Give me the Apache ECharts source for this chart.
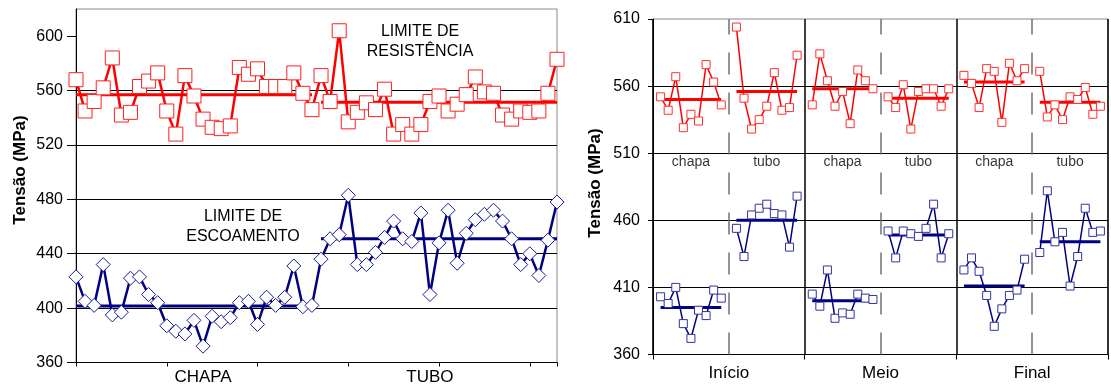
<!DOCTYPE html>
<html><head><meta charset="utf-8">
<script src="https://cdn.jsdelivr.net/npm/echarts@6/dist/echarts.min.js"></script>
<style>html,body{margin:0;padding:0;background:#fff}#c{width:1111px;height:386px}</style>
</head><body><div id="c"></div>
<script>
// ---------- LEFT CHART DATA ----------
const leftGroupNames = ['CHAPA', 'TUBO'];
const leftGroupLabelIndex = [14, 39];
const resistLeft = [568,545,552,562,584,542,544,563,567,573,545,528,571,556,539,533,532,534,577,572,576,563,563,563,573,558,546,
                    571,552,604,537,544,551,546,561,528,535,528,535,552,556,545,550,557,570,559,558,542,539,545,544,545,558,583];
const escoLeft = [423,405,402,432,395,397,422,423,410,404,387,383,381,391,372,394,390,393,404,405,388,408,402,408,431,401,402,
                  436,451,454,483,432,432,441,452,464,451,449,470,410,448,472,433,455,465,469,472,464,451,432,440,424,450,478];
const chapaCount = 27;
const resistLeftMeans = [557, 551.5];
const escoLeftMeans = [401.5, 451];
const leftYTicks = [360, 400, 440, 480, 520, 560, 600];

// ---------- RIGHT CHART DATA ----------
const sectionNames = ['Início', 'Meio', 'Final'];
const groupNames = ['chapa', 'tubo'];
const resistChapa = [[552,542,567,529,539,534,576,563,546],[546,584,564,545,556,532,572,564,558],[568,562,544,573,571,533,577,564,573]];
const resistTubo  = [[604,551,528,535,545,570,542,544,583],[552,544,561,528,556,558,558,545,558],[571,537,546,535,552,550,559,539,545]];
const escoChapa   = [[403,398,410,383,372,393,389,408,402],[405,396,423,387,391,390,405,402,401],[423,432,422,404,381,394,404,408,431]];
const escoTubo    = [[454,433,464,469,472,465,464,440,478],[452,432,452,450,448,454,472,432,450],[436,482,444,451,411,433,469,451,452]];
const resistChapaMean = [550, 558, 563];
const resistTuboMean  = [556, 551, 548];
const escoChapaMean   = [395, 400, 411];
const escoTuboMean    = [460, 449, 444];

// ---------- BUILD ----------
const FONT = 'Liberation Sans, Arial, sans-serif';
const leftCats = resistLeft.map((_, i) => String(i));
const slotsPerSection = 20;
const rightCats = [];
for (let i = 0; i <= slotsPerSection * 3; i++) rightCats.push(String(i));

function buildRight(chapaArr, tuboArr) {
  const out = rightCats.map(() => null);
  for (let s = 0; s < 3; s++) {
    chapaArr[s].forEach((v, k) => { out[s * slotsPerSection + 1 + k] = v; });
    tuboArr[s].forEach((v, k) => { out[s * slotsPerSection + 11 + k] = v; });
  }
  return out;
}
function buildRightMean(chapaM, tuboM) {
  const out = rightCats.map(() => null);
  for (let s = 0; s < 3; s++) {
    for (let k = 0; k < 9; k++) {
      out[s * slotsPerSection + 1 + k] = chapaM[s];
      out[s * slotsPerSection + 11 + k] = tuboM[s];
    }
  }
  return out;
}

const RED = '#ff0000', BLUE = '#000080';
const base = { type: 'line', animation: false, silent: true, emphasis: { disabled: true } };

function meanSeries(xi, yi, pts, color) {
  return Object.assign({}, base, {
    xAxisIndex: xi, yAxisIndex: yi, data: pts, showSymbol: false, symbol: 'none',
    lineStyle: { color: color, width: 3 }, z: 2
  });
}

const series = [];
series.push(meanSeries(0, 0, [[0, resistLeftMeans[0]], [chapaCount - 1, resistLeftMeans[0]]], RED));
series.push(meanSeries(0, 0, [[chapaCount, resistLeftMeans[1]], [resistLeft.length - 1, resistLeftMeans[1]]], RED));
series.push(meanSeries(0, 0, [[0, escoLeftMeans[0]], [chapaCount - 1, escoLeftMeans[0]]], BLUE));
series.push(meanSeries(0, 0, [[chapaCount, escoLeftMeans[1]], [escoLeft.length - 1, escoLeftMeans[1]]], BLUE));
series.push(Object.assign({}, base, {
  xAxisIndex: 0, yAxisIndex: 0, data: resistLeft, symbol: 'rect', symbolSize: 14, showAllSymbol: true,
  itemStyle: { color: '#fff', borderColor: '#ff2020', borderWidth: 1 },
  lineStyle: { color: RED, width: 2.5 }, z: 3
}));
series.push(Object.assign({}, base, {
  xAxisIndex: 0, yAxisIndex: 0, data: escoLeft, symbol: 'diamond', symbolSize: [14, 14], showAllSymbol: true,
  itemStyle: { color: '#fff', borderColor: '#1a1a99', borderWidth: 1 },
  lineStyle: { color: BLUE, width: 2.5 }, z: 3
}));
series.push(meanSeries(1, 1, buildRightMean(resistChapaMean, resistTuboMean), RED));
series.push(meanSeries(1, 1, buildRightMean(escoChapaMean, escoTuboMean), BLUE));
series.push(Object.assign({}, base, {
  xAxisIndex: 1, yAxisIndex: 1, data: buildRight(resistChapa, resistTubo), symbol: 'rect', symbolSize: 8,
  showAllSymbol: true, connectNulls: false,
  itemStyle: { color: '#fff', borderColor: '#ff3030', borderWidth: 1 },
  lineStyle: { color: RED, width: 1.5 }, z: 3,
  markLine: {
    silent: true, symbol: 'none', animation: false, label: { show: false },
    lineStyle: { type: [22, 18], color: '#707070', width: 1.5 },
    data: [{ xAxis: 10 }, { xAxis: 30 }, { xAxis: 50 }]
  }
}));
series.push(Object.assign({}, base, {
  xAxisIndex: 1, yAxisIndex: 1, data: buildRight(escoChapa, escoTubo), symbol: 'rect', symbolSize: 8,
  showAllSymbol: true, connectNulls: false,
  itemStyle: { color: '#fff', borderColor: '#3333a0', borderWidth: 1 },
  lineStyle: { color: BLUE, width: 1.5 }, z: 3
}));
const subLabels = [];
for (let s = 0; s < 3; s++) {
  subLabels.push({ value: [s * slotsPerSection + 5, 503], name: groupNames[0] });
  subLabels.push({ value: [s * slotsPerSection + 15, 503], name: groupNames[1] });
}
series.push({
  type: 'scatter', xAxisIndex: 1, yAxisIndex: 1, animation: false, silent: true,
  symbolSize: 1, itemStyle: { color: 'rgba(0,0,0,0)' }, data: subLabels,
  label: { show: true, position: 'inside', formatter: '{b}', fontFamily: FONT, fontSize: 14, color: '#000' }, z: 5
});

const option = {
  animation: false,
  backgroundColor: '#fff',
  textStyle: { fontFamily: FONT },
  grid: [
    { left: 76, top: 9, width: 481, height: 353.5, show: true, borderColor: '#8a8a8a', borderWidth: 1 },
    { left: 653, top: 19, width: 471, height: 335.5, show: true, borderColor: '#8a8a8a', borderWidth: 1 }
  ],
  xAxis: [
    {
      type: 'category', gridIndex: 0, data: leftCats, boundaryGap: false,
      axisLine: { lineStyle: { color: '#000', width: 1 } },
      axisTick: { show: true, interval: 9, length: 4, lineStyle: { color: '#000' } },
      axisLabel: {
        interval: 0,
        formatter: (v, i) => { const k = leftGroupLabelIndex.indexOf(i); return k >= 0 ? leftGroupNames[k] : ''; },
        fontFamily: FONT, fontSize: 17, color: '#000', margin: 6
      },
      splitLine: { show: false }
    },
    {
      type: 'category', gridIndex: 1, data: rightCats, boundaryGap: false,
      axisLine: { lineStyle: { color: '#000', width: 1 } },
      axisTick: { show: true, interval: slotsPerSection - 1, length: 5, lineStyle: { color: '#000' } },
      axisLabel: {
        interval: 0,
        formatter: (v, i) => (i % slotsPerSection === 10 ? sectionNames[Math.floor(i / slotsPerSection)] : ''),
        fontFamily: FONT, fontSize: 17, color: '#000', margin: 10
      },
      splitLine: { show: true, interval: slotsPerSection - 1, lineStyle: { color: '#000', width: 1.5 } }
    }
  ],
  yAxis: [
    {
      type: 'value', gridIndex: 0, min: 360, max: 620, interval: 40,
      axisLine: { show: true, lineStyle: { color: '#000', width: 1 } },
      axisTick: { show: true, length: 9, lineStyle: { color: '#000' }, customValues: leftYTicks },
      axisLabel: { fontFamily: FONT, fontSize: 16, color: '#000', margin: 13, customValues: leftYTicks },
      splitLine: { show: true, showMinLine: false, showMaxLine: false, lineStyle: { color: '#000', width: 1 } }
    },
    {
      type: 'value', gridIndex: 1, min: 360, max: 610, interval: 50,
      axisLine: { show: true, lineStyle: { color: '#000', width: 1 } },
      axisTick: { show: true, length: 5, lineStyle: { color: '#000' } },
      axisLabel: { fontFamily: FONT, fontSize: 16, color: '#000', margin: 13 },
      splitLine: { show: true, showMinLine: false, showMaxLine: false, lineStyle: { color: '#000', width: 1 } }
    }
  ],
  graphic: [
    { type: 'text', x: 20, y: 170, rotation: Math.PI / 2, z: 100,
      style: { text: 'Tensão (MPa)', x: 0, y: 0, align: 'center', verticalAlign: 'middle', font: 'bold 17px ' + FONT, fill: '#000' } },
    { type: 'text', x: 595, y: 183, rotation: Math.PI / 2, z: 100,
      style: { text: 'Tensão (MPa)', x: 0, y: 0, align: 'center', verticalAlign: 'middle', font: 'bold 17px ' + FONT, fill: '#000' } },
    { type: 'text', x: 420, y: 42, z: 100,
      style: { text: 'LIMITE DE\nRESISTÊNCIA', x: 0, y: 0, align: 'center', verticalAlign: 'middle', font: '16px ' + FONT,
               lineHeight: 20, fill: '#000', backgroundColor: '#fff', padding: [1, 14, 1, 14] } },
    { type: 'text', x: 243, y: 227, z: 100,
      style: { text: 'LIMITE DE\nESCOAMENTO', x: 0, y: 0, align: 'center', verticalAlign: 'middle', font: '16px ' + FONT,
               lineHeight: 20, fill: '#000' } }
  ],
  series: series
};

const chart = echarts.init(document.getElementById('c'), null, { renderer: 'canvas' });
chart.setOption(option);
</script>
</body></html>
